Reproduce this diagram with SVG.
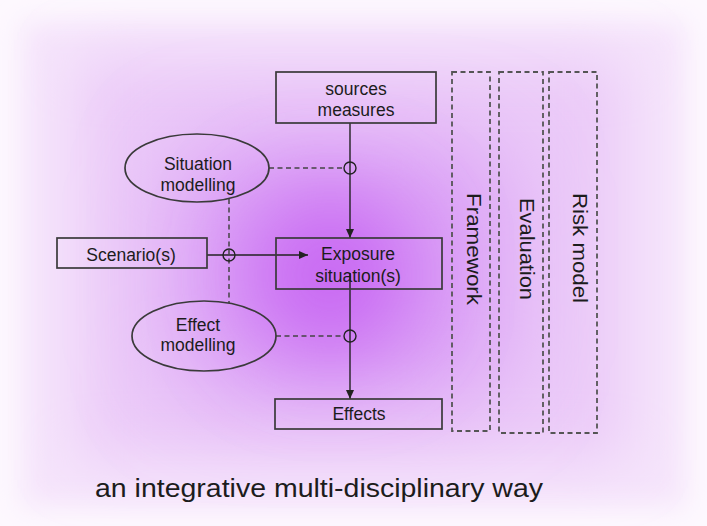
<svg xmlns="http://www.w3.org/2000/svg" width="707" height="526" viewBox="0 0 707 526">
<defs>
<filter id="b1" filterUnits="userSpaceOnUse" x="-100" y="-100" width="907" height="726"><feGaussianBlur stdDeviation="14"/></filter>
<filter id="b2" filterUnits="userSpaceOnUse" x="-100" y="-100" width="907" height="726"><feGaussianBlur stdDeviation="30"/></filter>
<filter id="b3" filterUnits="userSpaceOnUse" x="-100" y="-100" width="907" height="726"><feGaussianBlur stdDeviation="45"/></filter>
<marker id="arr" markerWidth="10" markerHeight="10" refX="9" refY="5" orient="auto" markerUnits="userSpaceOnUse">
<path d="M0,1 L9,5 L0,9 Z" fill="#222"/>
</marker>
<style>
text{font-family:"Liberation Sans",Arial,sans-serif;fill:#1c1c1c}
.lbl{font-size:17.5px;text-anchor:middle}
.side{font-size:20px;text-anchor:middle}
.box{fill:none;stroke:#3a3a3a;stroke-width:1.7}
.dbox{fill:none;stroke:#555;stroke-width:1.8;stroke-dasharray:5 3.5}
.line{fill:none;stroke:#222;stroke-width:1.4}
.dash{fill:none;stroke:#444;stroke-width:1.5;stroke-dasharray:5 3.5}
.ring{fill:none;stroke:#222;stroke-width:1.4}
</style>
</defs>
<g id="background">
<rect x="0" y="0" width="707" height="526" fill="#fdf8fe"/>
<rect x="22" y="22" width="663" height="485" fill="#f5e4fb" filter="url(#b1)"/>
<rect x="80" y="60" width="545" height="400" fill="#ebcaf8" filter="url(#b2)"/>
<rect x="170" y="140" width="340" height="260" rx="60" fill="#dba2f6" filter="url(#b3)"/>
<ellipse cx="330" cy="275" rx="85" ry="85" fill="#c866f3" filter="url(#b3)"/>
</g>

<g id="connectors">
<line class="line" x1="350" y1="123" x2="350" y2="238" marker-end="url(#arr)"/>
<line class="line" x1="350" y1="273" x2="350" y2="399" marker-end="url(#arr)"/>
<line class="line" x1="207" y1="255" x2="308" y2="255" marker-end="url(#arr)"/>
<line class="dash" x1="269" y1="168" x2="344" y2="168"/>
<line class="dash" x1="276" y1="336" x2="344" y2="336"/>
<line class="dash" x1="229" y1="199" x2="229" y2="303"/>
<circle class="ring" cx="350" cy="168" r="6"/>
<circle class="ring" cx="350" cy="336" r="6"/>
<circle class="ring" cx="229" cy="255" r="6"/>
</g>

<g id="sources">
<rect class="box" x="276" y="72" width="160" height="51"/>
<text class="lbl" x="356" y="95">sources</text>
<text class="lbl" x="356" y="116">measures</text>
</g>
<g id="situation-modelling">
<ellipse class="box" cx="197" cy="168" rx="72" ry="34"/>
<text class="lbl" x="198" y="170">Situation</text>
<text class="lbl" x="198" y="191">modelling</text>
</g>
<g id="scenarios">
<rect class="box" x="57" y="238" width="150" height="30"/>
<text class="lbl" x="131" y="261">Scenario(s)</text>
</g>
<g id="exposure">
<rect class="box" x="276" y="238" width="166" height="51"/>
<text class="lbl" x="358" y="260">Exposure</text>
<text class="lbl" x="358" y="282">situation(s)</text>
</g>
<g id="effect-modelling">
<ellipse class="box" cx="204" cy="336" rx="72" ry="35"/>
<text class="lbl" x="198" y="331">Effect</text>
<text class="lbl" x="198" y="351">modelling</text>
</g>
<g id="effects">
<rect class="box" x="275" y="399" width="167" height="30"/>
<text class="lbl" x="359" y="420">Effects</text>
</g>
<g id="framework">
<rect class="dbox" x="452" y="72" width="38" height="359"/>
<text class="side" transform="translate(467 249) rotate(90)" textLength="112" lengthAdjust="spacingAndGlyphs">Framework</text>
</g>
<g id="evaluation">
<rect class="dbox" x="499" y="72" width="44" height="361"/>
<text class="side" transform="translate(520 249) rotate(90)" textLength="102" lengthAdjust="spacingAndGlyphs">Evaluation</text>
</g>
<g id="risk-model">
<rect class="dbox" x="549" y="72" width="48" height="361"/>
<text class="side" transform="translate(573 248) rotate(90)" textLength="110" lengthAdjust="spacingAndGlyphs">Risk model</text>
</g>
<text x="95" y="497" font-size="26" textLength="448" lengthAdjust="spacingAndGlyphs">an integrative multi-disciplinary way</text>
</svg>
